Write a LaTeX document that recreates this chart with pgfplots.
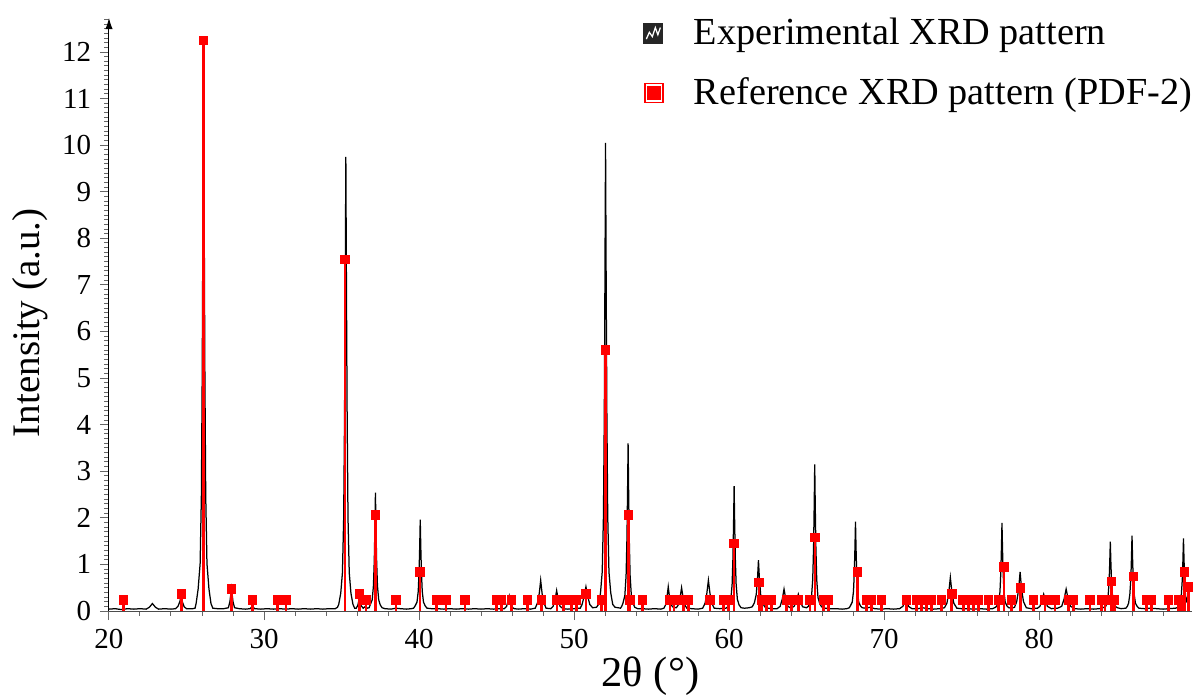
\documentclass[border=0pt]{standalone}
\usepackage{fontspec}
\setmainfont{Liberation Serif}
\usepackage{pgfplots}
\usepackage{pgfplotstable}
\pgfplotsset{compat=1.18}
\usetikzlibrary{arrows.meta}

\pgfplotstableread{
x y
20.0 0.04
20.4 0.05
20.8 0.03
21.2 0.05
21.6 0.04
22.0 0.05
22.4 0.04
22.6 0.08
22.8 0.16
23.0 0.08
23.2 0.04
23.6 0.05
24.0 0.04
24.3 0.05
24.45 0.10
24.57 0.20
24.65 0.32
24.73 0.20
24.85 0.09
25.0 0.05
25.4 0.05
25.55 0.06
25.62 0.16
25.75 0.47
25.88 1.02
25.96 2.48
26.015 5.16
26.06 8.58
26.10 12.2
26.14 8.58
26.185 5.16
26.24 2.48
26.32 1.02
26.45 0.47
26.58 0.16
26.7 0.06
27.0 0.05
27.4 0.05
27.7 0.07
27.8 0.20
27.9 0.48
28.0 0.20
28.1 0.07
28.4 0.05
28.8 0.04
29.1 0.05
29.25 0.10
29.4 0.05
29.8 0.04
30.2 0.05
30.6 0.04
31.0 0.05
31.4 0.04
31.8 0.05
32.2 0.04
32.6 0.05
33.0 0.04
33.4 0.05
33.8 0.04
34.2 0.05
34.6 0.05
34.74 0.08
34.82 0.14
34.95 0.38
35.06 0.82
35.14 1.99
35.195 4.14
35.24 6.87
35.28 9.75
35.32 6.87
35.365 4.14
35.42 1.99
35.5 0.82
35.61 0.38
35.74 0.14
35.85 0.06
35.95 0.06
36.05 0.12
36.15 0.27
36.25 0.12
36.4 0.06
36.55 0.10
36.65 0.06
36.78 0.07
36.85 0.13
36.98 0.24
37.06 0.54
37.115 1.09
37.155 1.79
37.19 2.54
37.225 1.79
37.265 1.09
37.32 0.54
37.4 0.24
37.5 0.13
37.62 0.07
37.8 0.05
38.2 0.04
38.5 0.06
38.8 0.05
39.2 0.04
39.5 0.05
39.65 0.06
39.75 0.11
39.87 0.19
39.95 0.42
40.005 0.85
40.045 1.38
40.08 1.96
40.115 1.38
40.155 0.85
40.21 0.42
40.29 0.19
40.4 0.11
40.52 0.06
40.8 0.05
41.2 0.05
41.6 0.04
42.0 0.05
42.4 0.04
42.8 0.05
43.2 0.04
43.6 0.05
44.0 0.04
44.4 0.05
44.8 0.04
45.2 0.05
45.5 0.05
45.65 0.10
45.75 0.22
45.82 0.32
45.9 0.18
46.0 0.08
46.15 0.05
46.4 0.04
46.8 0.05
47.2 0.04
47.5 0.06
47.65 0.18
47.76 0.38
47.85 0.66
47.94 0.38
48.05 0.18
48.2 0.06
48.5 0.05
48.65 0.10
48.78 0.25
48.88 0.44
48.98 0.25
49.1 0.10
49.3 0.05
49.6 0.04
50.0 0.05
50.4 0.06
50.52 0.14
50.66 0.32
50.77 0.52
50.88 0.32
51.02 0.14
51.2 0.07
51.45 0.08
51.58 0.14
51.71 0.39
51.82 0.84
51.9 2.05
51.955 4.26
51.995 7.08
52.035 10.05
52.075 7.08
52.12 4.26
52.175 2.05
52.255 0.84
52.37 0.39
52.5 0.14
52.65 0.08
52.85 0.07
53.0 0.06
53.08 0.10
53.16 0.17
53.28 0.33
53.36 0.76
53.415 1.55
53.455 2.56
53.49 3.6
53.525 2.56
53.565 1.55
53.62 0.76
53.7 0.33
53.8 0.17
53.92 0.08
54.1 0.05
54.4 0.05
54.8 0.04
55.2 0.05
55.6 0.04
55.8 0.06
55.92 0.14
56.0 0.30
56.08 0.52
56.16 0.30
56.27 0.13
56.4 0.08
56.6 0.07
56.75 0.14
56.85 0.30
56.94 0.50
57.03 0.30
57.13 0.14
57.28 0.06
57.6 0.05
58.0 0.04
58.3 0.06
58.46 0.17
58.57 0.38
58.67 0.66
58.77 0.38
58.88 0.17
59.05 0.06
59.4 0.05
59.8 0.06
59.92 0.09
60.0 0.13
60.12 0.25
60.2 0.57
60.255 1.15
60.295 1.90
60.33 2.68
60.365 1.90
60.405 1.15
60.46 0.57
60.54 0.25
60.65 0.13
60.78 0.07
61.0 0.06
61.3 0.07
61.5 0.09
61.64 0.18
61.76 0.36
61.84 0.70
61.9 1.09
61.96 0.70
62.04 0.36
62.16 0.18
62.3 0.09
62.5 0.06
62.8 0.05
63.1 0.05
63.3 0.10
63.44 0.26
63.55 0.47
63.66 0.26
63.8 0.10
64.0 0.06
64.2 0.10
64.36 0.22
64.47 0.36
64.58 0.22
64.75 0.09
65.0 0.07
65.12 0.10
65.2 0.16
65.32 0.29
65.4 0.67
65.455 1.36
65.495 2.24
65.53 3.15
65.565 2.24
65.605 1.36
65.66 0.67
65.74 0.29
65.85 0.16
65.97 0.09
66.2 0.06
66.5 0.05
66.9 0.05
67.3 0.04
67.6 0.05
67.76 0.07
67.83 0.11
67.95 0.19
68.03 0.42
68.085 0.83
68.125 1.36
68.16 1.92
68.195 1.36
68.235 0.83
68.29 0.42
68.37 0.19
68.48 0.11
68.6 0.07
68.8 0.06
69.1 0.08
69.4 0.05
69.8 0.04
70.2 0.05
70.6 0.04
71.0 0.05
71.22 0.10
71.4 0.28
71.58 0.10
71.8 0.05
72.2 0.05
72.5 0.07
72.8 0.05
73.2 0.04
73.6 0.05
73.9 0.07
74.06 0.17
74.18 0.40
74.28 0.72
74.38 0.40
74.5 0.17
74.7 0.06
75.0 0.05
75.4 0.05
75.8 0.04
76.2 0.05
76.6 0.04
77.0 0.05
77.2 0.08
77.28 0.11
77.4 0.19
77.48 0.41
77.535 0.82
77.575 1.34
77.61 1.89
77.645 1.34
77.685 0.82
77.74 0.41
77.82 0.19
77.93 0.11
78.05 0.07
78.25 0.06
78.42 0.08
78.56 0.20
78.68 0.45
78.78 0.84
78.88 0.45
79.0 0.20
79.18 0.07
79.5 0.05
79.9 0.06
80.06 0.10
80.2 0.24
80.3 0.36
80.4 0.24
80.54 0.10
80.8 0.05
81.2 0.06
81.46 0.10
81.62 0.26
81.75 0.47
81.88 0.26
82.04 0.10
82.3 0.05
82.7 0.04
83.1 0.05
83.5 0.04
83.9 0.05
84.2 0.08
84.3 0.10
84.38 0.16
84.46 0.33
84.525 0.65
84.565 1.06
84.6 1.49
84.635 1.06
84.675 0.65
84.74 0.33
84.82 0.16
84.93 0.10
85.05 0.07
85.3 0.05
85.6 0.06
85.7 0.10
85.78 0.17
85.86 0.36
85.925 0.70
85.965 1.15
86.0 1.62
86.035 1.15
86.075 0.70
86.14 0.36
86.22 0.17
86.33 0.10
86.45 0.06
86.8 0.05
87.2 0.06
87.6 0.05
88.0 0.04
88.4 0.05
88.8 0.06
89.0 0.08
89.06 0.10
89.1 0.16
89.18 0.34
89.245 0.68
89.285 1.10
89.32 1.56
89.355 1.10
89.395 0.68
89.45 0.34
89.52 0.22
89.6 0.30
89.7 0.45
}\exptable

\pgfplotstableread{
x y
20.92 0.24
24.69 0.36
26.09 12.25
27.91 0.47
29.27 0.24
30.88 0.24
31.42 0.24
35.23 7.55
36.15 0.36
36.58 0.24
37.20 2.06
38.52 0.24
40.06 0.84
41.14 0.24
41.74 0.24
42.97 0.24
45.01 0.24
45.33 0.24
45.97 0.24
46.99 0.24
47.90 0.24
48.90 0.24
49.30 0.24
49.85 0.24
50.17 0.24
50.77 0.36
51.78 0.24
52.02 5.60
53.50 2.06
53.62 0.24
54.43 0.24
56.20 0.24
56.45 0.24
57.05 0.24
57.37 0.24
58.77 0.24
59.64 0.24
59.96 0.24
60.32 1.45
61.93 0.61
62.10 0.24
62.43 0.24
62.75 0.24
63.72 0.24
64.04 0.24
64.47 0.24
65.23 0.24
65.55 1.58
66.08 0.24
66.41 0.24
68.28 0.84
68.88 0.24
69.20 0.24
69.85 0.24
71.46 0.24
72.10 0.24
72.42 0.24
72.75 0.24
73.07 0.24
73.72 0.24
74.37 0.36
75.11 0.24
75.44 0.24
75.76 0.24
76.08 0.24
76.73 0.24
77.37 0.24
77.74 0.95
78.23 0.24
78.81 0.49
79.63 0.24
80.39 0.24
81.03 0.24
81.89 0.24
82.21 0.24
83.29 0.24
84.04 0.24
84.26 0.24
84.69 0.63
84.85 0.24
86.08 0.74
86.94 0.24
87.26 0.24
88.34 0.24
88.99 0.24
89.20 0.24
89.37 0.84
89.63 0.51
}\reftable

\begin{document}
\begin{tikzpicture}
\begin{axis}[
  name=ax,
  scale only axis,
  width=433.2pt, height=237.2pt,
  xmin=20, xmax=89.87,
  ymin=0, ymax=12.73,
  axis lines=left,
  x axis line style={-, black!70},
  y axis line style={-{Latex[length=4.5pt,width=3pt]}, black},
  xtick={20,30,...,80},
  minor xtick={22,24,...,88},
  ytick={0,1,...,12},
  minor ytick={0,0.1,...,12.7},
  tick align=outside,
  major tick length=3.6pt,
  minor tick length=1.8pt,
  every tick/.style={black!60, line width=0.4pt},
  tick label style={font=\fontsize{11.6}{14}\selectfont},
  /pgf/number format/assume math mode=true,
  xlabel={2θ (°)},
  ylabel={Intensity (a.u.)},
  xlabel style={font=\fontsize{17}{20}\selectfont, yshift=3.5pt},
  ylabel style={font=\fontsize{15.6}{19}\selectfont, at={(axis description cs:-0.0725,0.486)}, anchor=center},
  legend cell align=left,
  legend style={at={(1.012,1.017)}, anchor=north east, draw=none, fill=none,
    font=\fontsize{15.3}{18}\selectfont, row sep=7.6pt},
]
\addplot[black, line width=0.5pt, no marks,
  legend image code/.code={
    \fill[black!85] (-6pt,-3.8pt) rectangle (1.6pt,3.8pt);
    \draw[white, line width=0.5pt] (-5pt,-2.2pt) -- (-3.8pt,0.5pt) -- (-2.6pt,-1.2pt) -- (-1.4pt,2.4pt) -- (-0.4pt,-0.5pt) -- (0.6pt,2.4pt);
    \path[draw=none, fill=none] (-6pt,0pt) -- (12pt,0pt);
  }] table[x=x,y=y] {\exptable};
\addlegendentry{Experimental XRD pattern}
\addplot[red, line width=1.1pt, ycomb, mark=square*, mark size=1.35pt, mark options={solid, fill=red},
  legend image code/.code={
    \draw[red, line width=0.7pt, fill=white] (-5.65pt,-3.8pt) rectangle (1.6pt,3.8pt);
    \fill[red] (-4.2pt,-2.4pt) rectangle (0.2pt,2.4pt);
    \path[draw=none, fill=none] (-6pt,0pt) -- (12pt,0pt);
  }] table[x=x,y=y] {\reftable};
\addlegendentry{Reference XRD pattern (PDF-2)}
\end{axis}
\pgfresetboundingbox
\path ([xshift=-43.6pt,yshift=-34.8pt]ax.south west) rectangle ([xshift=0.8pt,yshift=7.2pt]ax.north east);
\end{tikzpicture}
\end{document}
